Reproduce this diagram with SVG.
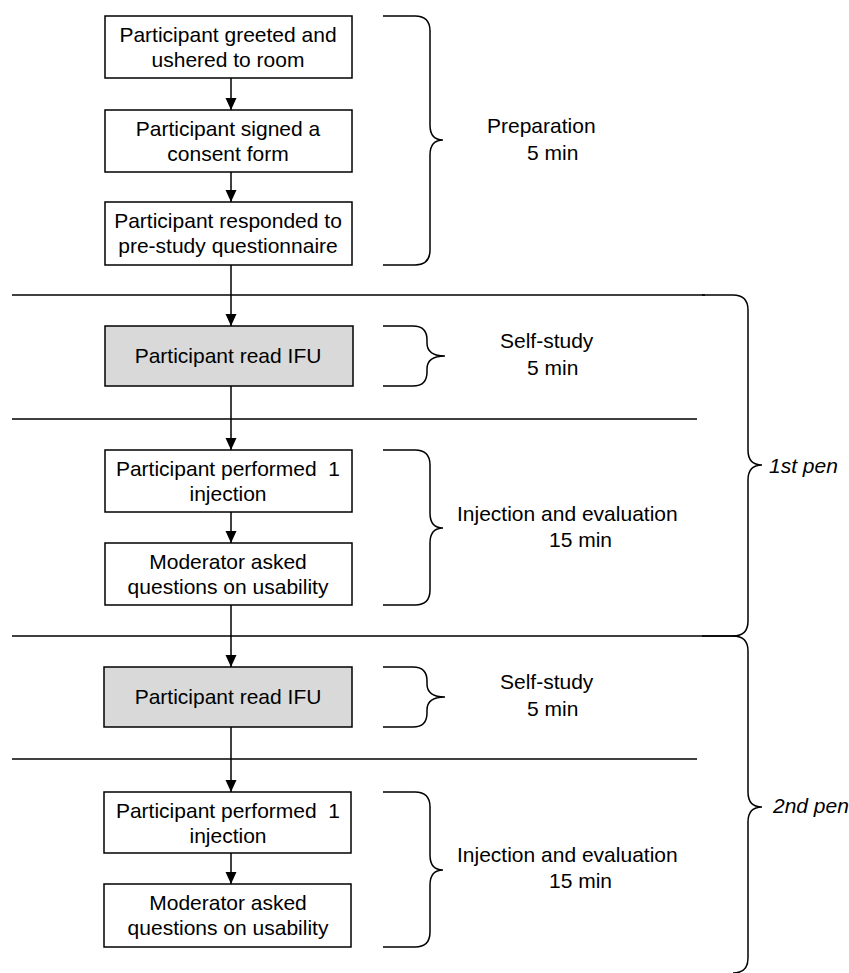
<svg xmlns="http://www.w3.org/2000/svg" width="849" height="973" viewBox="0 0 849 973">
<defs>
<style>
.box{fill:#ffffff;stroke:#000;stroke-width:1.5}
.gray{fill:#d9d9d9;stroke:#000;stroke-width:1.5}
.t{font-family:"Liberation Sans",Arial,sans-serif;font-size:21px;fill:#000;text-anchor:middle}
.l{font-family:"Liberation Sans",Arial,sans-serif;font-size:21px;fill:#000}
.it{font-family:"Liberation Sans",Arial,sans-serif;font-size:21px;font-style:italic;fill:#000}
.sep{stroke:#000;stroke-width:1.5;fill:none}
.brace{stroke:#000;stroke-width:1.5;fill:none}
.conn{stroke:#000;stroke-width:1.5;fill:none}
</style>
<marker id="arr" markerUnits="userSpaceOnUse" markerWidth="12" markerHeight="12" refX="12" refY="5.5" orient="auto" viewBox="0 0 12 11">
<path d="M0,0 L12,5.5 L0,11 Z" fill="#000"/>
</marker>
</defs>
<rect width="849" height="973" fill="#fff"/>
<g id="separators">
<line class="sep" x1="12" y1="295" x2="705" y2="295"/>
<line class="sep" x1="12" y1="419" x2="697" y2="419"/>
<line class="sep" x1="12" y1="636" x2="735" y2="636"/>
<line class="sep" x1="12" y1="759" x2="697" y2="759"/>
</g>
<g id="connectors">
<line class="conn" x1="231" y1="78" x2="231" y2="110" marker-end="url(#arr)"/>
<line class="conn" x1="231" y1="172" x2="231" y2="202" marker-end="url(#arr)"/>
<line class="conn" x1="231" y1="265" x2="231" y2="326" marker-end="url(#arr)"/>
<line class="conn" x1="231" y1="386" x2="231" y2="450" marker-end="url(#arr)"/>
<line class="conn" x1="231" y1="512" x2="231" y2="543" marker-end="url(#arr)"/>
<line class="conn" x1="231" y1="605" x2="231" y2="667" marker-end="url(#arr)"/>
<line class="conn" x1="231" y1="727" x2="231" y2="792" marker-end="url(#arr)"/>
<line class="conn" x1="231" y1="853" x2="231" y2="884" marker-end="url(#arr)"/>
</g>
<g id="n1">
<rect class="box" x="105" y="16" width="247" height="62"/>
<text class="t" x="228" y="42">Participant greeted and</text>
<text class="t" x="228" y="67">ushered to room</text>
</g>
<g id="n2">
<rect class="box" x="105" y="110" width="247" height="62"/>
<text class="t" x="228" y="136">Participant signed a</text>
<text class="t" x="228" y="161">consent form</text>
</g>
<g id="n3">
<rect class="box" x="105" y="202" width="247" height="63"/>
<text class="t" x="228" y="228">Participant responded to</text>
<text class="t" x="228" y="253">pre-study questionnaire</text>
</g>
<g id="n4">
<rect class="gray" x="105" y="326" width="248" height="60"/>
<text class="t" x="228" y="363">Participant read IFU</text>
</g>
<g id="n5">
<rect class="box" x="105" y="450" width="247" height="62"/>
<text class="t" x="228" y="476">Participant performed&#160; 1</text>
<text class="t" x="228" y="501">injection</text>
</g>
<g id="n6">
<rect class="box" x="105" y="543" width="247" height="62"/>
<text class="t" x="228" y="569">Moderator asked</text>
<text class="t" x="228" y="594">questions on usability</text>
</g>
<g id="n7">
<rect class="gray" x="104" y="667" width="248" height="60"/>
<text class="t" x="228" y="704">Participant read IFU</text>
</g>
<g id="n8">
<rect class="box" x="104" y="792" width="247" height="61"/>
<text class="t" x="228" y="818">Participant performed&#160; 1</text>
<text class="t" x="228" y="843">injection</text>
</g>
<g id="n9">
<rect class="box" x="104" y="884" width="247" height="63"/>
<text class="t" x="228" y="910">Moderator asked</text>
<text class="t" x="228" y="935">questions on usability</text>
</g>
<g id="brace-prep">
<path class="brace" d="M383,16 H415 Q430,16 430,31 V125 Q430,140 443,140 Q430,140 430,155 V250 Q430,265 415,265 H383"/>
<text class="l" x="487" y="133">Preparation</text>
<text class="l" x="527" y="160">5 min</text>
</g>
<g id="brace-self1">
<path class="brace" d="M383,326 H413 Q427,326 427,340 V343 Q427,356 445,356 Q427,356 427,369 V372 Q427,386 413,386 H383"/>
<text class="l" x="500" y="348">Self-study</text>
<text class="l" x="527" y="375">5 min</text>
</g>
<g id="brace-inj1">
<path class="brace" d="M383,450 H415 Q430,450 430,465 V513 Q430,528 443,528 Q430,528 430,543 V590 Q430,605 415,605 H383"/>
<text class="l" x="457" y="521">Injection and evaluation</text>
<text class="l" x="549" y="547">15 min</text>
</g>
<g id="brace-self2">
<path class="brace" d="M383,667 H413 Q427,667 427,681 V684 Q427,697 445,697 Q427,697 427,710 V713 Q427,727 413,727 H383"/>
<text class="l" x="500" y="689">Self-study</text>
<text class="l" x="527" y="716">5 min</text>
</g>
<g id="brace-inj2">
<path class="brace" d="M383,792 H415 Q430,792 430,807 V855 Q430,870 443,870 Q430,870 430,885 V932 Q430,947 415,947 H383"/>
<text class="l" x="457" y="862">Injection and evaluation</text>
<text class="l" x="549" y="888">15 min</text>
</g>
<g id="brace-pen1">
<path class="brace" d="M702,295 H733 Q748,295 748,310 V450 Q748,465 762,465 Q748,465 748,480 V621 Q748,636 733,636 H702"/>
<text class="it" x="769" y="473">1st pen</text>
</g>
<g id="brace-pen2">
<path class="brace" d="M733,636 Q748,636 748,651 V792 Q748,807 762,807 Q748,807 748,822 V958 Q748,973 733,973"/>
<text class="it" x="773" y="813">2nd pen</text>
</g>
</svg>
